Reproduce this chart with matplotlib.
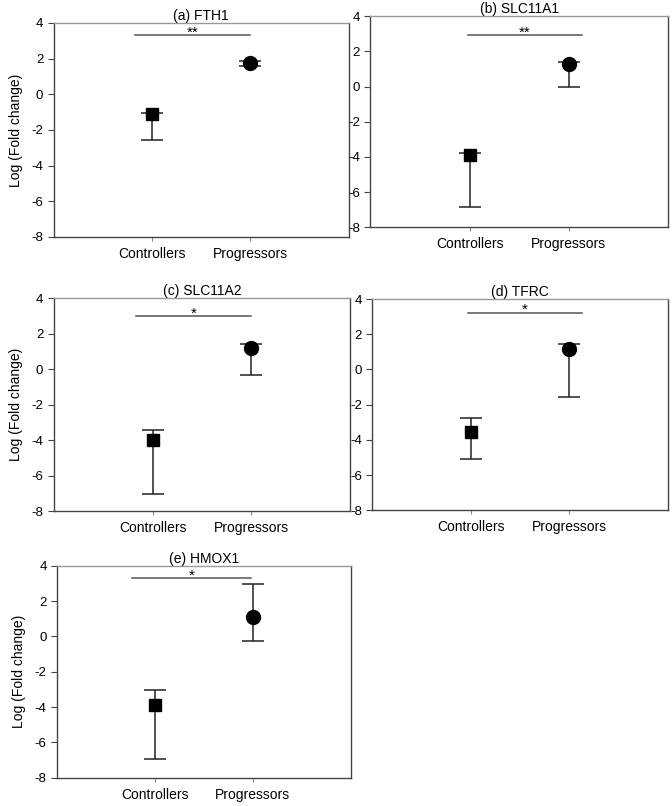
import matplotlib.pyplot as plt
import numpy as np

plt.rcParams["font.family"] = ["Liberation Sans", "DejaVu Sans"]
plt.rcParams["axes.unicode_minus"] = False

groups = ["Controllers", "Progressors"]
titles = ["(a) FTH1", "(b) SLC11A1", "(c) SLC11A2", "(d) TFRC", "(e) HMOX1"]

# mean, upper end of bar, lower end of bar for each gene
ctrl_mean = [-1.1, -3.89, -4.0, -3.53, -3.88]
ctrl_high = [-1.03, -3.8, -3.44, -2.77, -3.05]
ctrl_low = [-2.56, -6.87, -7.05, -5.08, -6.91]
prog_mean = [1.75, 1.26, 1.19, 1.16, 1.1]
prog_high = [1.88, 1.41, 1.44, 1.44, 2.97]
prog_low = [1.6, -0.02, -0.35, -1.55, -0.27]

# significance marks
sig_text = ["**", "**", "*", "*", "*"]
sig_y = [3.3, 2.93, 3.0, 3.22, 3.29]
sig_x0 = [0.83, 0.98, 0.83, 0.97, 0.77]
sig_x1 = [2.0, 2.13, 2.0, 2.13, 1.98]

# axes rectangles in figure fractions
boxes = [
    [0.080, 0.706, 0.439, 0.2655],
    [0.551, 0.718, 0.443, 0.262],
    [0.080, 0.366, 0.441, 0.264],
    [0.554, 0.367, 0.440, 0.262],
    [0.085, 0.035, 0.437, 0.263],
]

fig = plt.figure(figsize=(6.72, 8.06), dpi=100)

for i in range(5):
    ax = fig.add_axes(boxes[i])
    x = np.array([1, 2])
    means = [ctrl_mean[i], prog_mean[i]]
    highs = [ctrl_high[i], prog_high[i]]
    lows = [ctrl_low[i], prog_low[i]]
    for j, mk, ms in [(0, "s", 8), (1, "o", 10)]:
        err = [[means[j] - lows[j]], [highs[j] - means[j]]]
        ax.errorbar(x[j], means[j], yerr=err, fmt=mk, color="black",
                    markersize=ms, capsize=8, elinewidth=1.1, capthick=1.1,
                    ecolor="#222222")
    ax.plot([sig_x0[i], sig_x1[i]], [sig_y[i], sig_y[i]], color="#555555", lw=1.1)
    ax.text((sig_x0[i] + sig_x1[i]) / 2, sig_y[i] - 0.08, sig_text[i],
            ha="center", va="baseline", fontsize=11)
    ax.set_xlim(0, 3)
    ax.set_ylim(-8, 4)
    ax.set_yticks(np.arange(-8, 5, 2))
    ax.set_xticks(x)
    ax.set_xticklabels(groups, fontsize=10)
    ax.tick_params(axis="y", labelsize=9.5, direction="out", length=4, color="#444444")
    ax.tick_params(axis="x", direction="out", length=3, color="#888888", pad=4)
    ax.set_title(titles[i], fontsize=10, pad=1)
    for s in ax.spines.values():
        s.set_color("#444444")
        s.set_linewidth(1.0)
    ax.spines["top"].set_color("#999999")
    if i in (0, 2, 4):
        ax.set_ylabel("Log (Fold change)", fontsize=10, labelpad=6)

fig.savefig("out.png", dpi=100)
